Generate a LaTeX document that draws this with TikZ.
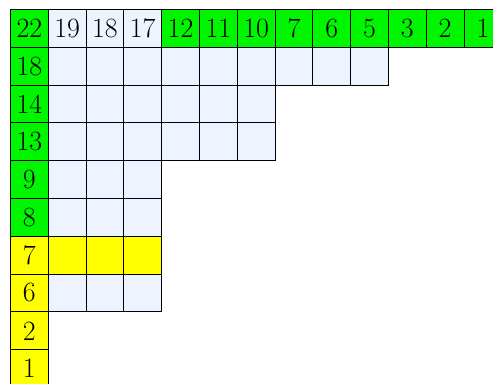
\documentclass[tikz,border=0pt]{standalone}
\definecolor{cgreen}{RGB}{0,245,0}
\definecolor{cyel}{RGB}{255,255,0}
\definecolor{cblue}{RGB}{237,244,255}
\tikzset{
  cell/.style={draw=black, line width=0.6pt, minimum size=1cm, inner sep=0pt, anchor=north west, font=\fontsize{21}{25}\selectfont},
  gcell/.style={cell, fill=cgreen},
  ycell/.style={cell, fill=cyel},
  bcell/.style={cell, fill=cblue}
}
\begin{document}
\begin{tikzpicture}
\useasboundingbox (-0.265,0.24) rectangle (12.777,-9.892);
% top row
\node[gcell] (r0c0) at (0,0) {22};
\foreach \v [count=\i] in {19,18,17} \node[bcell] (r0c\i) at (\i,0) {\v};
\foreach \v [count=\i from 4] in {12,11,10,7,6,5,3,2,1} \node[gcell] (r0c\i) at (\i,0) {\v};
% first column
\foreach \v/\r in {18/1,14/2,13/3,9/4,8/5} \node[gcell] (r\r c0) at (0,-\r) {\v};
\foreach \v/\r in {7/6,6/7,2/8,1/9} \node[ycell] (r\r c0) at (0,-\r) {\v};
% body cells
\foreach \c in {1,...,9} \node[bcell] (r1c\c) at (\c,-1) {};
\foreach \r in {2,3} \foreach \c in {1,...,6} \node[bcell] (r\r c\c) at (\c,-\r) {};
\foreach \r in {4,5,7} \foreach \c in {1,2,3} \node[bcell] (r\r c\c) at (\c,-\r) {};
\foreach \c in {1,2,3} \node[ycell] (r6c\c) at (\c,-6) {};
\end{tikzpicture}
\end{document}
